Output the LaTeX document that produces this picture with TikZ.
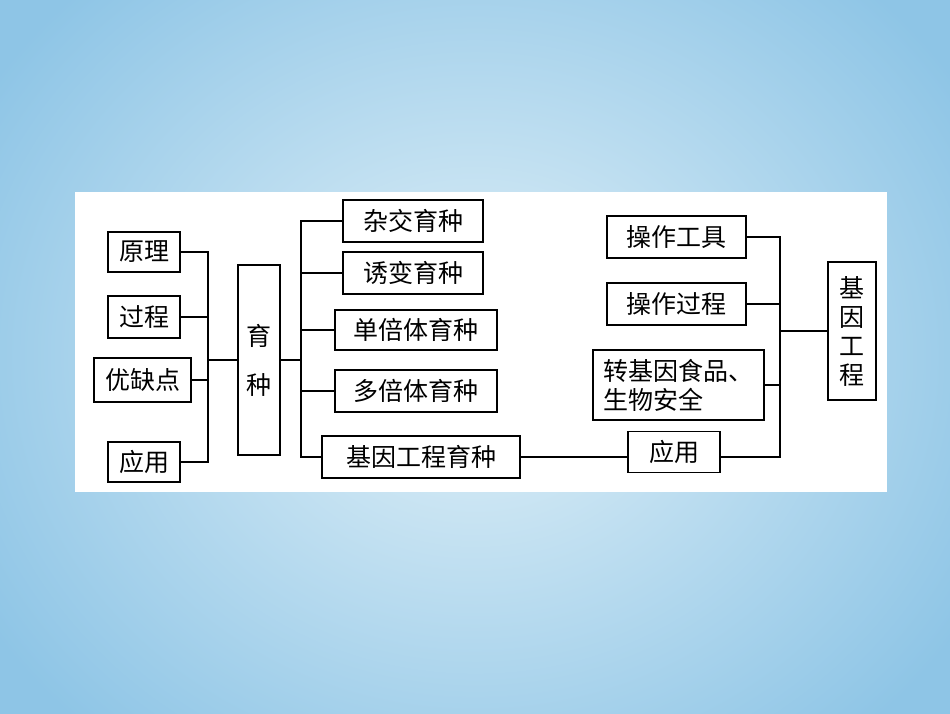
\documentclass[tikz,border=0pt]{standalone}
\usepackage{fontspec}
\newfontfamily\cjk{Noto Sans CJK SC}
\definecolor{bgin}{HTML}{E2F1F8}
\definecolor{bgout}{HTML}{8EC5E6}
\begin{document}
\begin{tikzpicture}[x=1pt,y=-1pt,
  bx/.style={draw=black,line width=1.4pt,fill=white,inner sep=0pt,font=\cjk\fontsize{25}{29}\selectfont},
  ln/.style={line width=1.2pt}]
\useasboundingbox (0,0) rectangle (950,713);
\shade[inner color=bgin,outer color=bgout] (-100,-150) rectangle (1050,863);
\fill[white] (75,192) rectangle (887,492);
\node[bx,minimum width=72pt,minimum height=40pt] (yl) at (144,252) {原理};
\node[bx,minimum width=72pt,minimum height=42pt] (gc) at (144,317) {过程};
\node[bx,minimum width=97pt,minimum height=44pt] (yq) at (142.5,380) {优缺点};
\node[bx,minimum width=72pt,minimum height=40pt] (yy) at (144,462) {应用};
\node[bx,minimum width=42pt,minimum height=190pt,align=center] (yz) at (259,360) {育\\[20pt]种};
\node[bx,minimum width=140pt,minimum height=42pt] (zj) at (413,221) {杂交育种};
\node[bx,minimum width=140pt,minimum height=42pt] (yb) at (413,273) {诱变育种};
\node[bx,minimum width=162pt,minimum height=40pt] (dbt) at (416,330) {单倍体育种};
\node[bx,minimum width=162pt,minimum height=42pt] (dbt2) at (416,391) {多倍体育种};
\node[bx,minimum width=198pt,minimum height=42pt] (jyyz) at (421,457) {基因工程育种};
\node[bx,minimum width=92pt,minimum height=41pt] (yy2) at (674,452) {应用};
\node[bx,minimum width=139pt,minimum height=42pt] (czgj) at (676.5,237) {操作工具};
\node[bx,minimum width=139pt,minimum height=42pt] (czgc) at (676.5,304) {操作过程};
\node[bx,minimum width=171pt,minimum height=70pt,align=left] (zjy) at (678.5,385) {转基因食品、\\生物安全};
\node[bx,minimum width=48pt,minimum height=138pt,align=center] (jygc) at (852,331) {基\\因\\工\\程};
% left bracket
\draw[ln] (yl.east) -- (208,252) -- (208,462) -- (yy.east);
\draw[ln] (gc.east) -- (208,317);
\draw[ln] (yq.east) -- (208,380);
\draw[ln] (208,360) -- (yz.west);
% middle bracket
\draw[ln] (yz.east) -- (301,360);
\draw[ln] (zj.west) -- (301,221) -- (301,457) -- (jyyz.west);
\draw[ln] (yb.west) -- (301,273);
\draw[ln] (dbt.west) -- (301,330);
\draw[ln] (dbt2.west) -- (301,391);
\draw[ln] (jyyz.east) -- (jyyz.east -| yy2.west);
% right bracket
\draw[ln] (czgj.east) -- (780,237) -- (780,457) -- (yy2.east|-0,457);
\draw[ln] (czgc.east) -- (780,304);
\draw[ln] (zjy.east) -- (780,385);
\draw[ln] (780,331) -- (jygc.west);
\end{tikzpicture}
\end{document}
